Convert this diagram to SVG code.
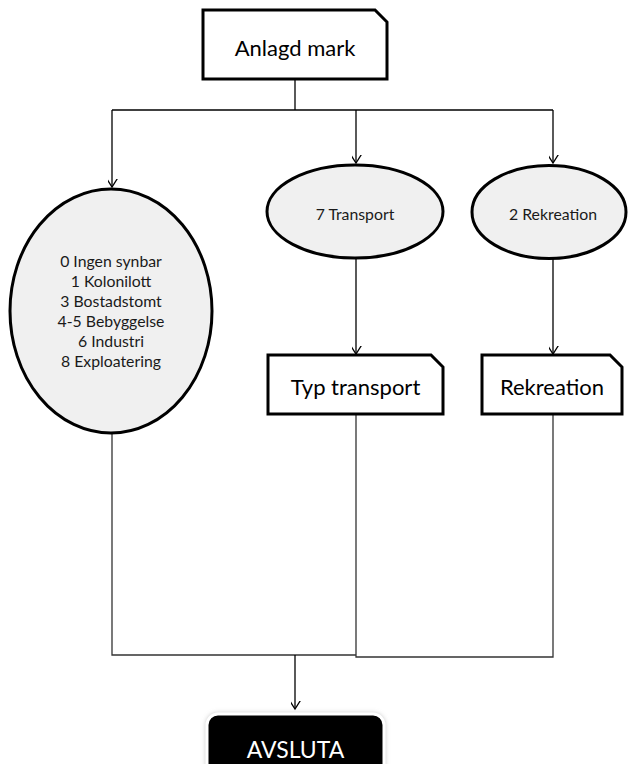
<svg xmlns="http://www.w3.org/2000/svg" width="628" height="764" viewBox="0 0 628 764">
<defs>
<marker id="arr" markerWidth="18" markerHeight="16" refX="8" refY="12" orient="auto-start-reverse" markerUnits="userSpaceOnUse" viewBox="0 0 18 16">
<polyline points="1,1 8,12 15,1" transform="rotate(-90 8 12)" fill="none" stroke="#000" stroke-width="1.3"/>
</marker>
<filter id="glow" x="-10%" y="-20%" width="120%" height="140%">
<feDropShadow dx="0" dy="0" stdDeviation="2" flood-color="#bbb" flood-opacity="0.8"/>
</filter>
<style>
.box{fill:#fff;stroke:#000;stroke-width:3;stroke-linejoin:miter}
.ell{fill:#f0f0f0;stroke:#000;stroke-width:3}
.big{font-family:Lato,"Noto Sans",sans-serif;font-size:22px;fill:#000;text-anchor:middle}
.small{font-family:Lato,"Noto Sans",sans-serif;font-size:15.8px;fill:#1a1a1a;text-anchor:middle}
.con{fill:none;stroke:#000;stroke-width:1.3}
.con2{fill:none;stroke:#333;stroke-width:1.3}
</style>
</defs>
<rect width="628" height="764" fill="#fff"/>
<g id="connectors">
<path class="con" d="M295,79 V110"/>
<path class="con" d="M112,110 H553"/>
<path class="con" d="M112,110 V187" marker-end="url(#arr)"/>
<path class="con" d="M356,110 V163" marker-end="url(#arr)"/>
<path class="con" d="M553,110 V163" marker-end="url(#arr)"/>
<path class="con" d="M356,258 V354" marker-end="url(#arr)"/>
<path class="con" d="M553,258 V354" marker-end="url(#arr)"/>
<path class="con2" d="M112,433 V655 H356"/>
<path class="con2" d="M356,414 V657 H553 V414"/>
<path class="con" d="M295,655 V709" marker-end="url(#arr)"/>
</g>
<g id="anlagd">
<polygon class="box" points="203,10 375,10 387,22 387,79 203,79"/>
<text class="big" x="295" y="56">Anlagd mark</text>
</g>
<g id="ovrigt">
<ellipse class="ell" cx="111" cy="311" rx="101" ry="122"/>
<text class="small" x="111" y="267">0 Ingen synbar</text>
<text class="small" x="111" y="287">1 Kolonilott</text>
<text class="small" x="111" y="307">3 Bostadstomt</text>
<text class="small" x="111" y="327">4-5 Bebyggelse</text>
<text class="small" x="111" y="347">6 Industri</text>
<text class="small" x="111" y="367">8 Exploatering</text>
</g>
<g id="transport">
<ellipse class="ell" cx="355" cy="211.5" rx="88" ry="46.5"/>
<text class="small" x="355" y="220">7 Transport</text>
</g>
<g id="rekreation-ell">
<ellipse class="ell" cx="549" cy="212" rx="77" ry="46.5"/>
<text class="small" x="553" y="220">2 Rekreation</text>
</g>
<g id="typ-transport">
<polygon class="box" points="268,355 431,355 443,367 443,414 268,414"/>
<text class="big" x="355.5" y="395">Typ transport</text>
</g>
<g id="rekreation">
<polygon class="box" points="482,355 610,355 622,367 622,414 482,414"/>
<text class="big" x="552" y="395">Rekreation</text>
</g>
<g id="avsluta">
<rect x="207" y="714" width="177" height="70" rx="11" fill="#000" stroke="#fff" stroke-width="3" filter="url(#glow)"/>
<text x="295.5" y="758" font-family="Lato,'Noto Sans',sans-serif" font-size="23" fill="#fff" text-anchor="middle">AVSLUTA</text>
</g>
</svg>
